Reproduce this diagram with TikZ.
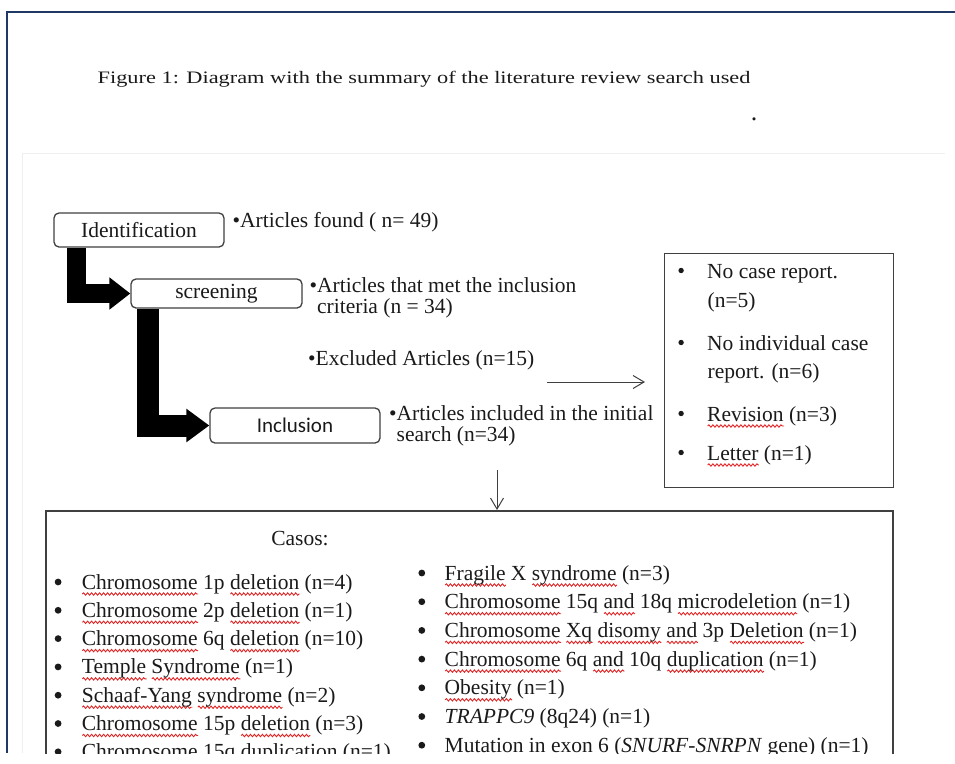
\documentclass[tikz,border=0pt]{standalone}
\usepackage{fontspec}
\setmainfont{Liberation Serif}
\newfontfamily\calfont{Carlito}
\usepackage{graphicx}
\usetikzlibrary{arrows.meta,decorations.pathmorphing}
\definecolor{ink}{HTML}{1A1A1A}
\definecolor{edge}{HTML}{404040}
\definecolor{frame}{HTML}{1F3864}
\definecolor{faint}{HTML}{EFEFEF}
\definecolor{wavered}{HTML}{E02424}
\newlength\wvlen
\newcommand\wv[1]{\settowidth\wvlen{#1}\leavevmode\rlap{\tikz[baseline=0pt,x=1pt,y=1pt]\draw[wavered,line width=0.9pt,decorate,decoration={snake,amplitude=1.2pt,segment length=4pt}] (0,-5) -- (\wvlen,-5);}#1}
\newcommand\bl[1]{\makebox[#1][l]{\tikz[baseline=0pt,x=1pt,y=1pt]\fill[ink] (3.8,7) circle (3.4pt);}}
\newcommand\sbl[1]{\makebox[#1][l]{\tikz[baseline=0pt,x=1pt,y=1pt]\fill[ink] (3.8,7.5) circle (2.7pt);}}

\begin{document}
\begin{tikzpicture}[x=1pt,y=-1pt,line width=1.3pt,every node/.style={text=ink,inner sep=0pt},stage/.style={draw=edge,rounded corners=5pt,fill=white,font=\fontsize{21.5}{21.5}\selectfont},note/.style={anchor=base west,font=\fontsize{21.5}{21.5}\selectfont},blk/.style={draw=black,line width=19pt,-{Triangle[length=21pt,width=31pt]}},thin/.style={draw=edge,line width=1pt,-{Straight Barb[length=11pt,width=13pt]}}]
\path[use as bounding box] (0,0) rectangle (955,763);
\begin{scope}
\clip (0,0) rectangle (955,753);
\draw[frame] (7,753)--(7,12)--(955,12);
\draw[faint,line width=1pt] (22,753)--(22,153)--(945,153);
\node[anchor=base west,font=\fontsize{17.5}{17.5}\selectfont] (title) at (97,83) {\scalebox{1.277}[1]{Figure 1: Diagram with the summary of the literature review search used}};
\node[anchor=base,font=\fontsize{26}{26}\selectfont] (dot) at (754,120) {.};

% stages
\node[stage,minimum width=170pt,minimum height=34pt] (ident) at (139,230) {Identification};
\node[stage,minimum width=171pt,minimum height=29pt] (screen) at (216.5,293.5) {screening};
\node[stage,minimum width=170pt,minimum height=35pt,font=\calfont\fontsize{21}{21}\selectfont] (incl) at (295,425.5) {Inclusion};
\draw[blk] ([xshift=23.5pt]ident.south west) |- (screen.west);
\draw[blk,line width=22pt,-{Triangle[length=23pt,width=32pt]}] ([xshift=18pt]screen.south west) |- (incl.west);

\node[note] (found) at (232,227) {\textbullet Articles found ( n= 49)};
\node[note] (met) at (309,292) {\textbullet Articles that met the inclusion};
\node[note] (met2) at (316.5,313) {criteria (n = 34)};
\node[note] (excl) at (307.5,365) {\textbullet Excluded Articles (n=15)};
\node[note] (incl1) at (388.5,420) {\textbullet Articles included in the initial};
\node[note] (incl2) at (396,441) {search (n=34)};

% excluded box
\node[draw=edge,minimum width=229pt,minimum height=234pt,anchor=north west] (exbox) at (664,253) {};
\node[note] (ex1) at (678.2,278) {\sbl{28.8pt}No case report.};
\node[note] (ex2) at (707,307) {(n=5)};
\node[note] (ex3) at (678.2,350) {\sbl{28.8pt}No individual case};
\node[note] (ex4) at (707,378) {report. (n=6)};
\node[note] (ex5) at (678.2,421) {\sbl{28.8pt}\wv{Revision} (n=3)};
\node[note] (ex6) at (678.2,460) {\sbl{28.8pt}\wv{Letter} (n=1)};
\coordinate (exa) at (547,382);
\coordinate (exb) at (645,382);
\draw[thin] (exa) -- (exb);

% cases box
\node[draw=edge,line width=1.6pt,minimum width=847pt,minimum height=300pt,anchor=north west] (cases) at (45,510) {};
\coordinate (dn) at (497,470);
\draw[thin] (dn) -- (dn |- cases.north);
\node[anchor=base,font=\fontsize{21.5}{21.5}\selectfont] (casos) at (300,545) {Casos:};
\node[note] (l1) at (54.5,589) {\bl{27.2pt}\wv{Chromosome} 1p \wv{deletion} (n=4)};
\node[note] (l2) at (54.5,617.3) {\bl{27.2pt}\wv{Chromosome} 2p \wv{deletion} (n=1)};
\node[note] (l3) at (54.5,645.6) {\bl{27.2pt}\wv{Chromosome} 6q \wv{deletion} (n=10)};
\node[note] (l4) at (54.5,673.9) {\bl{27.2pt}\wv{Temple} \wv{Syndrome} (n=1)};
\node[note] (l5) at (54.5,702.2) {\bl{27.2pt}\wv{Schaaf-Yang} \wv{syndrome} (n=2)};
\node[note] (l6) at (54.5,730.5) {\bl{27.2pt}\wv{Chromosome} 15p \wv{deletion} (n=3)};
\node[note] (l7) at (54.5,758.8) {\bl{27.2pt}\wv{Chromosome} 15q \wv{duplication} (n=1)};
\node[note] (r1) at (418.2,580) {\bl{26.3pt}\wv{Fragile} X \wv{syndrome} (n=3)};
\node[note] (r2) at (418.2,608.7) {\bl{26.3pt}\wv{Chromosome} 15q \wv{and} 18q \wv{microdeletion} (n=1)};
\node[note] (r3) at (418.2,637.4) {\bl{26.3pt}\wv{Chromosome} \wv{Xq} \wv{disomy} \wv{and} 3p \wv{Deletion} (n=1)};
\node[note] (r4) at (418.2,666.1) {\bl{26.3pt}\wv{Chromosome} 6q \wv{and} 10q \wv{duplication} (n=1)};
\node[note] (r5) at (418.2,694.8) {\bl{26.3pt}\wv{Obesity} (n=1)};
\node[note] (r6) at (418.2,723.5) {\bl{26.3pt}\textit{TRAPPC9} (8q24) (n=1)};
\node[note] (r7) at (418.2,752.2) {\bl{26.3pt}Mutation in exon 6 (\textit{SNURF-SNRPN} gene) (n=1)};
\end{scope}

\end{tikzpicture}
\end{document}
